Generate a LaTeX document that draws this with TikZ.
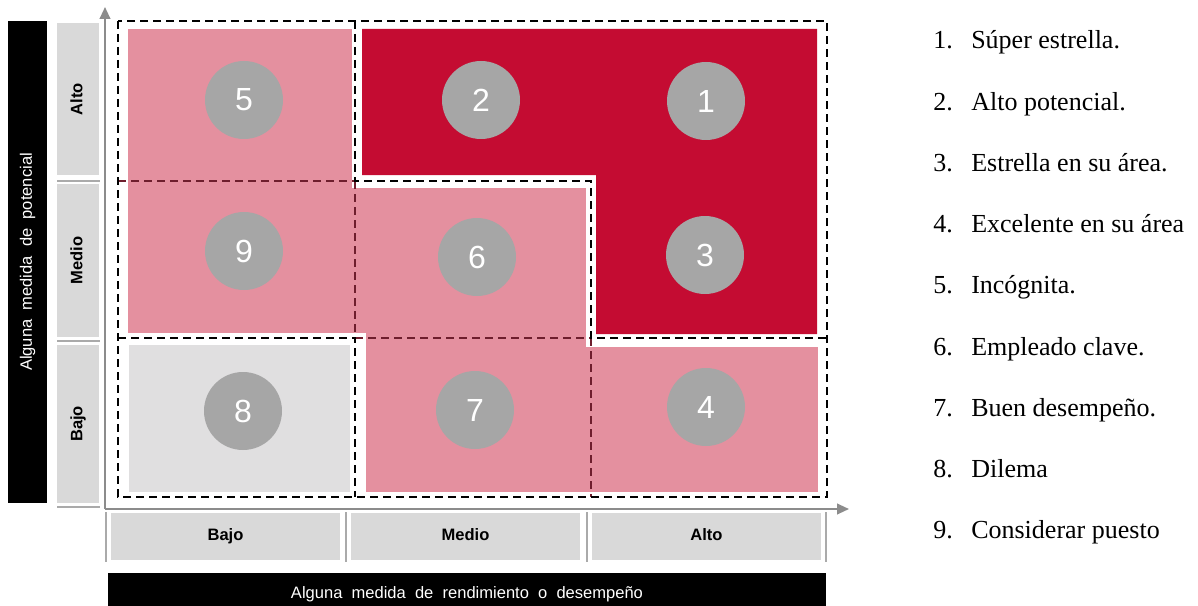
\documentclass[tikz,border=0pt]{standalone}
\usepackage{fontspec}
\setmainfont{Liberation Serif}
\newfontfamily\arial{Liberation Sans}
\usetikzlibrary{arrows.meta}
\definecolor{redc}{RGB}{196,12,50}
\definecolor{pinkc}{RGB}{228,144,159}
\definecolor{cellgray}{RGB}{224,223,224}
\definecolor{circgray}{RGB}{166,166,166}
\definecolor{labgray}{RGB}{217,217,217}
\definecolor{axisgray}{RGB}{140,140,140}
\definecolor{sepgray}{RGB}{170,170,170}
\definecolor{darkred}{RGB}{110,30,45}
\begin{document}
\begin{tikzpicture}[x=0.75pt,y=-0.75pt,
 num/.style={circle,fill=circgray,minimum size=58.5pt,inner sep=0pt,text=white,font=\arial\fontsize{24}{24}\selectfont},
 blkdash/.style={draw=black,line width=1.9pt,dash pattern=on 6pt off 3.75pt},
 reddash/.style={draw=darkred,line width=1.5pt,dash pattern=on 6pt off 3.75pt},
 lab/.style={fill=labgray,inner sep=0pt,text height=9pt,text depth=2.6pt,font=\arial\bfseries\fontsize{12.4}{14}\selectfont},
 bar/.style={fill=black,text=white,inner sep=0pt,font=\arial\fontsize{12.4}{14}\selectfont},
 item/.style={anchor=base west,inner sep=0pt,font=\fontsize{19.5}{22}\selectfont},
 sep/.style={draw=sepgray,line width=0.8pt},
 axis/.style={draw=axisgray,line width=1.5pt,-{Triangle[length=9pt,width=8pt]}}
]
\useasboundingbox (0,0) rectangle (1198,606);

% cell fills
\fill[pinkc] (128,29) rectangle (352,333);
\fill[pinkc] (352,188) rectangle (586,333);
\fill[pinkc] (366,333) rectangle (586,492);
\fill[pinkc] (586,347) rectangle (818,492);
\fill[redc] (362,29) -- (817,29) -- (817,334) -- (596,334) -- (596,175) -- (362,175) -- cycle;
\fill[cellgray] (129,345) rectangle (350,492);

% dashed boundaries
\draw[reddash] (118,181) -- (355,181);
\draw[reddash] (355,181) -- (355,338);
\draw[reddash] (355,338) -- (591,338);
\draw[reddash] (591,338) -- (591,497);
\draw[blkdash] (118,21) rectangle (827,497);
\draw[blkdash] (355,21) -- (355,181) -- (591,181) -- (591,338) -- (827,338);
\draw[blkdash] (118,338) -- (355,338) -- (355,497);

% circles
\node[num] (c5) at (244,100) {5};
\node[num] (c2) at (481,100) {2};
\node[num] (c1) at (706,101) {1};
\node[num] (c9) at (244,251) {9};
\node[num] (c6) at (477,257) {6};
\node[num] (c3) at (705,255) {3};
\node[num] (c8) at (243,411) {8};
\node[num] (c7) at (475,410) {7};
\node[num] (c4) at (706,407) {4};

% axes
\coordinate (O) at (105,509);
\coordinate (ytip) at (105,7);
\coordinate (xtip) at (849,509);
\draw[axis] (O) -- (ytip);
\draw[axis] (O) -- (xtip);

% left labels
\node[lab,rotate=90,minimum width=114pt,minimum height=31.5pt] (lAlto) at (78,99) {Alto};
\node[lab,rotate=90,minimum width=114.75pt,minimum height=31.5pt] (lMedio) at (78,260.5) {Medio};
\node[lab,rotate=90,minimum width=118.5pt,minimum height=31.5pt] (lBajo) at (78,424) {Bajo};
\coordinate (s1a) at (57,181); \coordinate (s1b) at (100,181);
\coordinate (s2a) at (57,341); \coordinate (s2b) at (100,341);
\coordinate (s3a) at (57,507); \coordinate (s3b) at (100,507);
\draw[sep] (s1a) -- (s1b);
\draw[sep] (s2a) -- (s2b);
\draw[sep] (s3a) -- (s3b);

% bottom labels
\node[lab,minimum width=171.75pt,minimum height=35.25pt] (bBajo) at (225.5,536.5) {Bajo};
\node[lab,minimum width=171.75pt,minimum height=35.25pt] (bMedio) at (465.5,536.5) {Medio};
\node[lab,minimum width=171.75pt,minimum height=35.25pt] (bAlto) at (706.5,536.5) {Alto};
\foreach \x [count=\i] in {106,346,587,826}{
  \coordinate (v\i a) at (\x,512); \coordinate (v\i b) at (\x,562);
  \draw[sep] (v\i a) -- (v\i b);
}

% black bars
\node[bar,rotate=90,minimum width=361.5pt,minimum height=29.25pt] (ybar) at (27.5,262) {Alguna\ \ medida\ \ de\ \ potencial};
\fill[black] (108,573) rectangle (826,606);
\node[bar,anchor=base] (xbar) at (467,598) {Alguna\ \ medida\ \ de\ \ rendimiento\ \ o\ \ desempeño};

% list
\foreach \n/\t [count=\i from 0] in {1/Súper estrella.,2/Alto potencial.,3/Estrella en su área.,4/Excelente en su área,5/Incógnita.,6/Empleado clave.,7/Buen desempeño.,8/Dilema,9/Considerar puesto}{
  \node[item] (n\n) at (933,49+61.2*\i) {\n.};
  \node[item] (t\n) at (971,49+61.2*\i) {\t};
}
\end{tikzpicture}
\end{document}
